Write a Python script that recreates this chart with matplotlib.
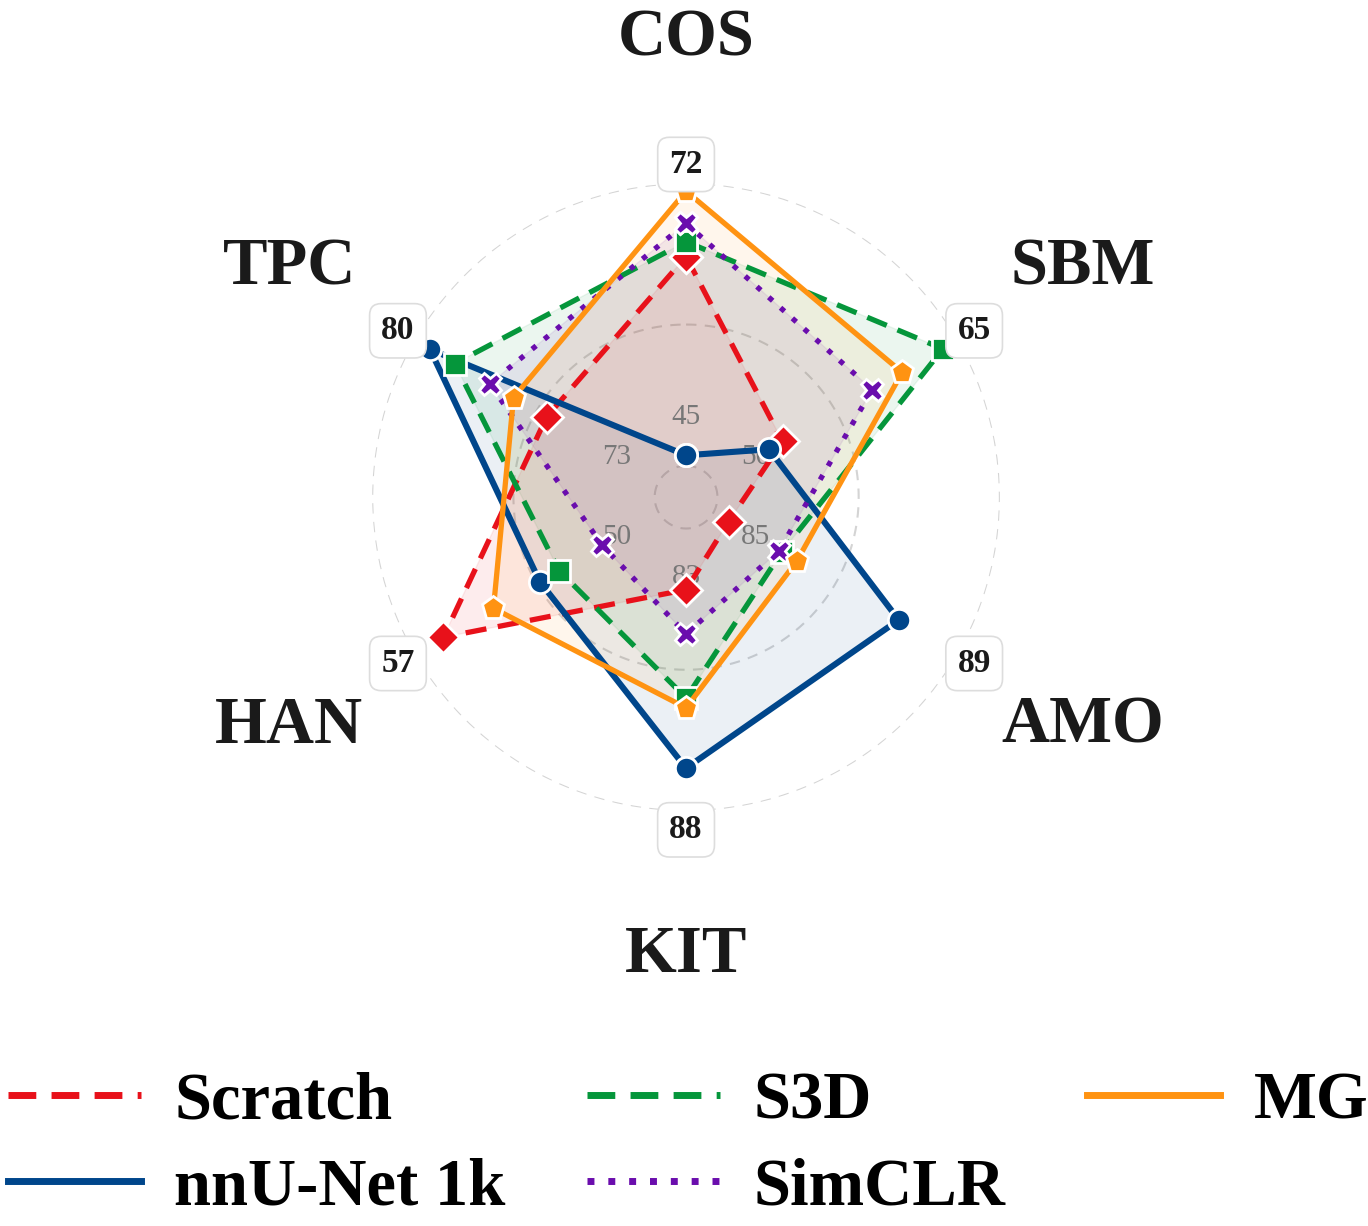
import numpy as np
import matplotlib.pyplot as plt
from matplotlib.lines import Line2D

plt.rcParams['font.family'] = ['Liberation Serif', 'DejaVu Serif']

# axes and their value ranges (inner label -> outer label)
categories = ['COS', 'SBM', 'AMO', 'KIT', 'HAN', 'TPC']
axis_min = [45, 50, 85, 83, 50, 73]
axis_max = [72, 65, 89, 88, 57, 80]

# scores per method
scratch = [63.6, 52.1, 84.5, 83.3, 56.0, 75.45]
nnunet = [40.8, 51.1, 87.84, 87.09, 52.69, 79.46]
s3d = [65.3, 63.9, 85.54, 85.6, 52.03, 78.61]
simclr = [67.4, 58.7, 85.49, 84.24, 50.54, 77.41]
mg = [71.1, 60.9, 85.84, 85.81, 54.28, 76.59]

methods = ['Scratch', 'nnU-Net 1k', 'S3D', 'SimCLR', 'MG']
scores = [scratch, nnunet, s3d, simclr, mg]
colors = ['#E8111A', '#00468B', '#05963B', '#6A0DAD', '#FF9312']
styles = [(0, (4, 2.2)), '-', (0, (4, 2.2)), (0, (1, 2)), '-']
markers = ['D', 'o', 's', 'X', 'p']
widths = [3.8, 4.4, 3.8, 3.8, 3.8]
msizes = [16, 16, 16, 16, 17]
draw_order = [1, 2, 0, 3, 4]


def norm(vals):
    return [0.25 + 0.75 * (v - lo) / (hi - lo) for v, lo, hi in zip(vals, axis_min, axis_max)]


n = len(categories)
angles = [i * 2 * np.pi / n for i in range(n)]

fig = plt.figure(figsize=(13.68, 12.26), dpi=100)
ax = fig.add_axes([0.272, 0.3385, 0.459, 0.512], projection='polar')
ax.set_theta_offset(np.pi / 2)
ax.set_theta_direction(-1)
ax.set_ylim(0, 1)
ax.spines['polar'].set_visible(False)
ax.set_xticks([])
ax.set_yticks([])
ax.grid(False)

t = np.linspace(0, 2 * np.pi, 400)
for rr in [0.1, 0.55, 1.0]:
    ax.plot(t, np.full_like(t, rr), color='#d4d4d4', ls=(0, (5, 4)), lw=1.5, zorder=1)

for k in draw_order:
    r = norm(scores[k])
    th = angles + [angles[0]]
    rc = r + [r[0]]
    ax.fill(th, rc, color=colors[k], alpha=0.08, zorder=2)
    ax.plot(th, rc, color=colors[k], ls=styles[k], lw=widths[k], marker=markers[k],
            ms=msizes[k], mec='white', mew=2, clip_on=False, zorder=3 + k)

for a, name, lo, hi in zip(angles, categories, axis_min, axis_max):
    ax.text(a, 1.46, name, ha='center', va='center', fontsize=48, fontweight='bold',
            color='#1a1a1a')
    ax.text(a, 1.06, str(hi), ha='center', va='center', fontsize=24, fontweight='bold',
            color='#1a1a1a', zorder=10,
            bbox=dict(boxstyle='round,pad=0.35', fc='white', ec='#dddddd', lw=1.2))
    ax.text(a, 0.255, str(lo), ha='center', va='center', fontsize=21, color='#777777',
            zorder=2.5)

handles = [Line2D([0], [0], color=c, ls=s, lw=5) for c, s in zip(colors, styles)]
fig.legend(handles, methods, loc='lower center', bbox_to_anchor=(0.503, -0.043), ncol=3,
           frameon=False, prop=dict(size=48, weight='bold'), handlelength=2.0,
           handletextpad=0.5, columnspacing=1.22, labelspacing=0.38)

fig.savefig('out.png', dpi=100, facecolor='white')
